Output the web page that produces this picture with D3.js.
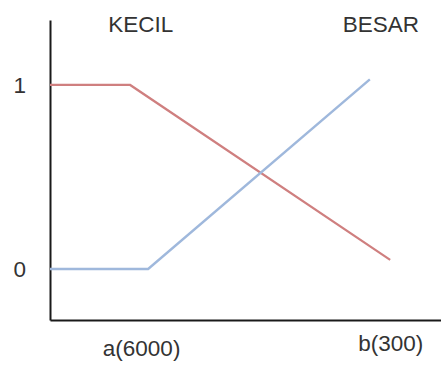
<!DOCTYPE html>
<html>
<head>
<meta charset="utf-8">
<script src="https://cdn.jsdelivr.net/npm/d3@7"></script>
<style>
  html, body { margin: 0; padding: 0; background: #fff; }
  svg { display: block; font-family: "Liberation Sans", Arial, sans-serif; }
</style>
</head>
<body>
<svg id="chart" width="441" height="368"></svg>
<script>
// Data
const kecilX = [0, 0.205, 0.870];
const kecilY = [1, 1, 0.05];
const besarX = [0, 0.251, 0.818];
const besarY = [0, 0, 1.03];
const yTicks = [0, 1];
const xTickValues = [0.233, 0.870];
const xTickLabels = ["a(6000)", "b(300)"];
const seriesNames = ["KECIL", "BESAR"];
const seriesLabelX = [0.232, 0.846];

const svg = d3.select("#chart");
const x = d3.scaleLinear().domain([0, 1]).range([50, 441]);
const y = d3.scaleLinear().domain([-0.277, 1.353]).range([320, 20]);

const line = d3.line().x(d => x(d[0])).y(d => y(d[1]));
const fontSize = "22.5px";

// Axes
const yAxis = svg.append("g")
  .attr("transform", `translate(${x(0)},0)`)
  .call(d3.axisLeft(y).tickValues(yTicks).tickFormat(d3.format("d")).tickSize(0).tickSizeOuter(0).tickPadding(24));
const xAxis = svg.append("g")
  .attr("transform", `translate(0,${y.range()[0]})`)
  .call(d3.axisBottom(x).tickValues(xTickValues).tickFormat((d, i) => xTickLabels[i]).tickSize(0).tickSizeOuter(0).tickPadding(20));

[yAxis, xAxis].forEach(g => {
  g.select(".domain").attr("stroke", "#1a1a1a").attr("stroke-width", 2);
  g.selectAll("text").attr("fill", "#333").style("font-size", fontSize).style("font-family", "'Liberation Sans', Arial, sans-serif");
});
xAxis.selectAll(".tick text").attr("dy", (d, i) => i === 0 ? "0.71em" : "0.49em");

// Lines
svg.append("path")
  .datum(kecilX.map((v, i) => [v, kecilY[i]]))
  .attr("d", line)
  .attr("fill", "none")
  .attr("stroke", "#cf7f7f")
  .attr("stroke-width", 2.2);

svg.append("path")
  .datum(besarX.map((v, i) => [v, besarY[i]]))
  .attr("d", line)
  .attr("fill", "none")
  .attr("stroke", "#9fb8dc")
  .attr("stroke-width", 2.4);

// Series titles
svg.selectAll("text.series")
  .data(seriesNames)
  .enter().append("text")
  .attr("class", "series")
  .attr("x", (d, i) => x(seriesLabelX[i]))
  .attr("y", 32)
  .attr("text-anchor", "middle")
  .attr("fill", "#333")
  .style("font-size", fontSize)
  .text(d => d);
</script>
</body>
</html>
